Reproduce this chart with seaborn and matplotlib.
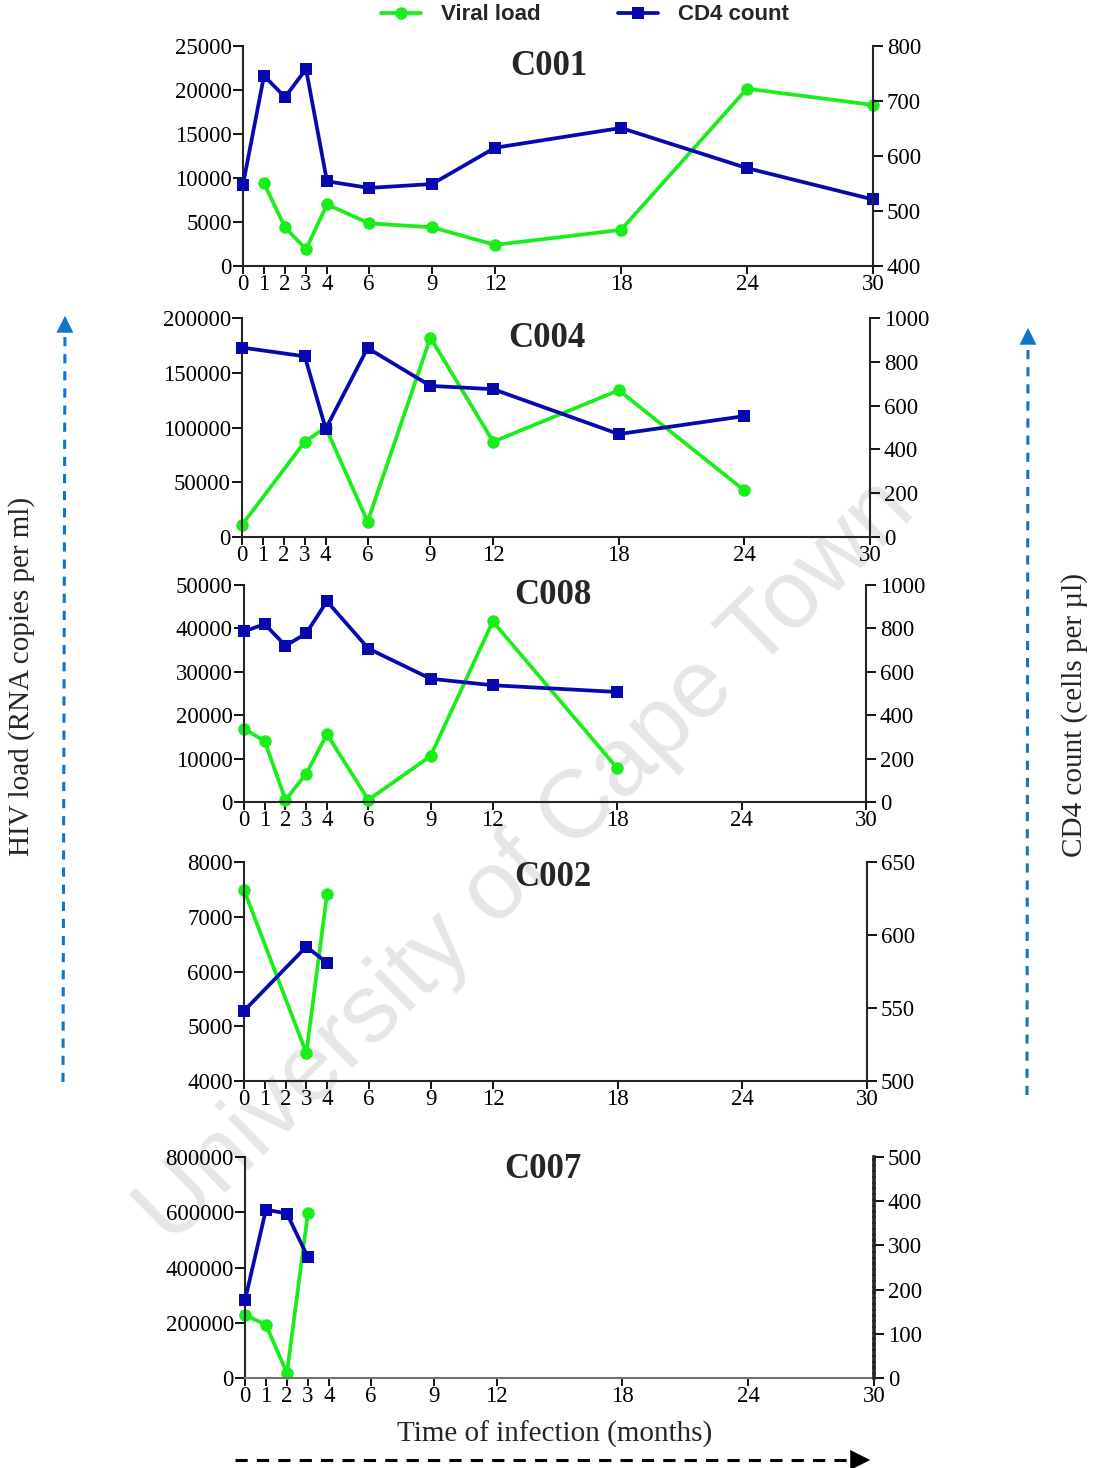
import matplotlib
matplotlib.use("Agg")
import matplotlib.pyplot as plt
import seaborn as sns
from matplotlib.lines import Line2D

sns.set_style("ticks")
plt.rcParams["font.family"] = ["Liberation Serif", "DejaVu Serif"]

W, H = 1093, 1468

# x-axis (months since infection)
month_ticks = [0, 1, 2, 3, 4, 6, 9, 12, 18, 24, 30]

# C001
c001_vl_months = [1, 2, 3, 4, 6, 9, 12, 18, 24, 30]
c001_vl = [9400, 4400, 1900, 7000, 4850, 4400, 2400, 4100, 20150, 18300]
c001_cd4_months = [0, 1, 2, 3, 4, 6, 9, 12, 18, 24, 30]
c001_cd4 = [548, 746, 707, 758, 554, 542, 549, 615, 651, 578, 521]

# C004
c004_vl_months = [0, 3, 4, 6, 9, 12, 18, 24]
c004_vl = [11000, 87000, 100000, 14000, 182000, 87000, 134000, 42500]
c004_cd4_months = [0, 3, 4, 6, 9, 12, 18, 24]
c004_cd4 = [865, 825, 494, 863, 690, 675, 470, 552]

# C008
c008_vl_months = [0, 1, 2, 3, 4, 6, 9, 12, 18]
c008_vl = [16900, 14000, 500, 6500, 15600, 500, 10600, 41600, 7800]
c008_cd4_months = [0, 1, 2, 3, 4, 6, 9, 12, 18]
c008_cd4 = [786, 820, 720, 777, 925, 707, 568, 538, 507]

# C002
c002_vl_months = [0, 3, 4]
c002_vl = [7490, 4510, 7420]
c002_cd4_months = [0, 3, 4]
c002_cd4 = [548, 592, 581]

# C007
c007_vl_months = [0, 1, 2, 3]
c007_vl = [228000, 193000, 17000, 597000]
c007_cd4_months = [0, 1, 2, 3]
c007_cd4 = [176, 381, 372, 273]

panels = [
    dict(name="C001", vm=c001_vl_months, vl=c001_vl, cm=c001_cd4_months, cd4=c001_cd4,
         box=(243, 873, 46, 266), vlim=(0, 25000), vticks=range(0, 25001, 5000),
         clim=(400, 800), cticks=range(400, 801, 100), title_xy=(0.486, 0.905)),
    dict(name="C004", vm=c004_vl_months, vl=c004_vl, cm=c004_cd4_months, cd4=c004_cd4,
         box=(242, 870, 318, 537), vlim=(0, 200000), vticks=range(0, 200001, 50000),
         clim=(0, 1000), cticks=range(0, 1001, 200), title_xy=(0.486, 0.905)),
    dict(name="C008", vm=c008_vl_months, vl=c008_vl, cm=c008_cd4_months, cd4=c008_cd4,
         box=(244, 866, 585, 802), vlim=(0, 50000), vticks=range(0, 50001, 10000),
         clim=(0, 1000), cticks=range(0, 1001, 200), title_xy=(0.497, 0.95)),
    dict(name="C002", vm=c002_vl_months, vl=c002_vl, cm=c002_cd4_months, cd4=c002_cd4,
         box=(244, 867, 862, 1081), vlim=(4000, 8000), vticks=range(4000, 8001, 1000),
         clim=(500, 650), cticks=range(500, 651, 50), title_xy=(0.496, 0.93)),
    dict(name="C007", vm=c007_vl_months, vl=c007_vl, cm=c007_cd4_months, cd4=c007_cd4,
         box=(245, 874, 1157, 1378), vlim=(0, 800000), vticks=range(0, 800001, 200000),
         clim=(0, 500), cticks=range(0, 501, 100), title_xy=(0.474, 0.945)),
]

GREEN = "#1aee1a"
BLUE = "#0808b0"
TICK_FS = 16.5
LW = 2.7
MS = 9

fig = plt.figure(figsize=(W / 100, H / 100), dpi=100)

# watermark behind the panels
fig.text(527 / W, 1 - 862 / H, "University of Cape Town", family="Liberation Sans",
         fontsize=70, color="#e6e6e6", rotation=44.5, ha="center", va="center",
         rotation_mode="anchor", zorder=-5)

for i, p in enumerate(panels):
    l, r, t, b = p["box"]
    ax = fig.add_axes([l / W, 1 - b / H, (r - l) / W, (b - t) / H])
    ax.patch.set_visible(False)
    ax2 = ax.twinx()
    ax2.patch.set_visible(False)

    sns.lineplot(x=p["vm"], y=p["vl"], ax=ax, color=GREEN, linewidth=LW, marker="o",
                 markersize=MS, markeredgewidth=0, clip_on=False)
    sns.lineplot(x=p["cm"], y=p["cd4"], ax=ax2, color=BLUE, linewidth=LW, marker="s",
                 markersize=MS, markeredgewidth=0, clip_on=False)

    ax.set_xlim(0, 30)
    ax.set_xticks(month_ticks)
    ax.set_xticklabels([str(m) for m in month_ticks])
    ax.set_ylim(*p["vlim"])
    ax.set_yticks(list(p["vticks"]))
    ax2.set_ylim(*p["clim"])
    ax2.set_yticks(list(p["cticks"]))

    for a in (ax, ax2):
        a.tick_params(labelsize=TICK_FS, width=1.3, length=7, pad=1, colors="black")
        a.spines["top"].set_visible(False)
    ax.spines["right"].set_visible(False)
    ax2.spines["left"].set_visible(False)
    ax2.spines["bottom"].set_visible(False)
    ax.spines["left"].set_linewidth(1.5)
    ax.spines["bottom"].set_linewidth(1.5)
    ax2.spines["right"].set_linewidth(1.5)
    ax.set_xlabel("")
    ax.set_ylabel("")
    ax2.set_ylabel("")
    ax.tick_params(axis="x", pad=0, length=6)
    ax2.tick_params(axis="y", pad=3)

    if p["name"] == "C007":
        ax2.spines["right"].set_linestyle((0, (1, 0.6)))
        ax2.spines["right"].set_linewidth(2.6)
        ax.spines["bottom"].set_color("#707070")

    ax.text(*p["title_xy"], p["name"], transform=ax.transAxes, ha="center", va="center",
            fontsize=25, fontweight="bold")

# axis titles
fig.text(22 / W, 1 - 676 / H, "HIV load (RNA copies per ml)", rotation=90,
         ha="center", va="center", fontsize=21)
fig.text(1075 / W, 1 - 715 / H, "CD4 count (cells per µl)", rotation=90,
         ha="center", va="center", fontsize=21)
fig.text(555 / W, 1 - 1434 / H, "Time of infection (months)", ha="center", va="center",
         fontsize=21)


def fx(x):
    return x / W


def fy(y):
    return 1 - y / H


def dashed_arrow(x0, y0, x1, y1, color, dash, head_len):
    # dashed shaft up to the head, then a solid triangular head
    dx, dy = x1 - x0, y1 - y0
    n = (dx ** 2 + dy ** 2) ** 0.5
    sx, sy = x1 - dx / n * head_len, y1 - dy / n * head_len
    fig.add_artist(Line2D([fx(x0), fx(sx)], [fy(y0), fy(sy)], transform=fig.transFigure,
                          color=color, linewidth=2.2, linestyle=(0, dash)))
    fig.add_artist(matplotlib.patches.FancyArrowPatch(
        (fx(sx), fy(sy)), (fx(x1), fy(y1)), transform=fig.transFigure,
        arrowstyle=f"-|>,head_length={head_len * 0.72:.1f},head_width={head_len * 0.36:.1f}",
        mutation_scale=1, color=color, linewidth=0))


dashed_arrow(63, 1082, 65, 313, "#1075c8", (3, 2.6), 17)
dashed_arrow(1027, 1095, 1028, 325, "#1075c8", (3, 2.6), 17)
dashed_arrow(235, 1460, 873, 1460, "black", (4, 3), 20)

# legend
handles = [
    Line2D([], [], color=GREEN, linewidth=LW, marker="o", markersize=MS, markeredgewidth=0),
    Line2D([], [], color=BLUE, linewidth=LW, marker="s", markersize=MS, markeredgewidth=0),
]
fig.legend(handles, ["Viral load", "CD4 count"], loc="center", ncol=2,
           bbox_to_anchor=(585 / W, 1 - 15 / H), frameon=False, handlelength=1.8,
           columnspacing=3.5, handletextpad=0.9,
           prop=dict(family="Liberation Sans", weight="bold", size=16))

fig.savefig("out.png", dpi=100)
